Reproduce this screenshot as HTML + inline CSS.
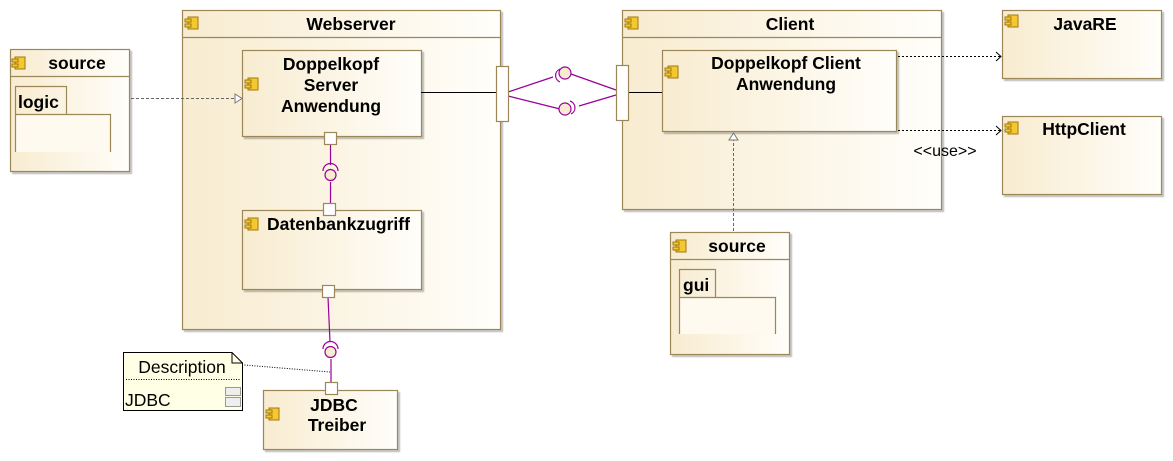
<!DOCTYPE html>
<html><head><meta charset="utf-8"><style>
html,body{margin:0;padding:0;background:#fff;}
svg{display:block;font-family:"Liberation Sans",Arial,sans-serif;}
.b{font-weight:bold;font-size:17.5px;fill:#000;}
</style></head><body>
<svg width="1173" height="461" viewBox="0 0 1173 461" xmlns="http://www.w3.org/2000/svg">
<defs>
<linearGradient id="g" x1="0" x2="1" y1="0" y2="0"><stop offset="0" stop-color="#f8ecd0"/><stop offset="1" stop-color="#fffefa"/></linearGradient>
<filter id="sh" x="-5%" y="-5%" width="110%" height="110%"><feDropShadow dx="2" dy="2" stdDeviation="0.6" flood-color="#000" flood-opacity="0.25"/></filter>
<g id="ic"><rect x="3" y="0" width="10" height="12" fill="#f5c830" stroke="#a07810"/><rect x="0" y="2" width="6" height="3" fill="#f5c830" stroke="#a07810"/><rect x="0" y="7" width="6" height="3" fill="#f5c830" stroke="#a07810"/></g>
</defs>
<g stroke="#9c8758" stroke-width="1.2" fill="url(#g)" filter="url(#sh)">
<rect x="10.5" y="49.5" width="119" height="122"/>
<rect x="182.5" y="10.5" width="318" height="319"/>
<rect x="622.5" y="10.5" width="319" height="199"/>
<rect x="1002.5" y="10.5" width="159" height="68"/>
<rect x="1002.5" y="116.5" width="159" height="78"/>
<rect x="670.5" y="232.5" width="119" height="122"/>
<rect x="263.5" y="390.5" width="134" height="59"/>
</g>
<g stroke="#9c8758" stroke-width="1.2" fill="url(#g)" filter="url(#sh)">
<rect x="242.5" y="50.5" width="179" height="86"/>
<rect x="242.5" y="210.5" width="179" height="79"/>
<rect x="662.5" y="50.5" width="234" height="81"/>
</g>
<g stroke="#9c8758" stroke-width="1.2" fill="none">
<line x1="10" y1="76.5" x2="129" y2="76.5"/>
<line x1="182" y1="37.5" x2="500" y2="37.5"/>
<line x1="622" y1="37.5" x2="941" y2="37.5"/>
<line x1="670" y1="259.5" x2="789" y2="259.5"/>
<path d="M15.5 114 V86.5 H66.5 V114"/><path d="M15.5 152 V114.5 H110.5 V152" fill="#fffaf0"/>
<path d="M679.5 297 V269.5 H715.5 V297"/><path d="M679.5 334 V297.5 H775.5 V334" fill="#fffaf0"/>
</g>
<use href="#ic" x="12" y="57"/><use href="#ic" x="185" y="17"/><use href="#ic" x="245" y="78"/><use href="#ic" x="245" y="218"/>
<use href="#ic" x="625" y="17"/><use href="#ic" x="665" y="66"/><use href="#ic" x="1005" y="15"/><use href="#ic" x="1005" y="122"/>
<use href="#ic" x="673" y="240"/><use href="#ic" x="266" y="408"/>
<text class="b" x="77" y="69" text-anchor="middle">source</text>
<text class="b" x="18" y="108">logic</text>
<text class="b" x="351" y="30" text-anchor="middle">Webserver</text>
<text class="b" x="331" y="70" text-anchor="middle">Doppelkopf</text>
<text class="b" x="331" y="91" text-anchor="middle">Server</text>
<text class="b" x="331" y="112" text-anchor="middle">Anwendung</text>
<text class="b" x="267" y="230">Datenbankzugriff</text>
<text class="b" x="334" y="411" text-anchor="middle">JDBC</text>
<text class="b" x="337" y="431" text-anchor="middle">Treiber</text>
<text class="b" x="790" y="30" text-anchor="middle">Client</text>
<text class="b" x="786" y="69" text-anchor="middle">Doppelkopf Client</text>
<text class="b" x="786" y="90" text-anchor="middle">Anwendung</text>
<text class="b" x="1085" y="30" text-anchor="middle">JavaRE</text>
<text class="b" x="1084" y="135" text-anchor="middle">HttpClient</text>
<text class="b" x="737" y="252" text-anchor="middle">source</text>
<text class="b" x="683" y="291">gui</text>
<text x="945" y="156" font-size="16" text-anchor="middle">&lt;&lt;use&gt;&gt;</text>
<line x1="421" y1="92.5" x2="496" y2="92.5" stroke="#000"/>
<line x1="628" y1="92.5" x2="662" y2="92.5" stroke="#000"/>
<g stroke="#990099" stroke-width="1.2" fill="none">
<line x1="330.5" y1="144" x2="330.5" y2="165"/><line x1="330.5" y1="182" x2="330.5" y2="204"/>
<path d="M323 171 A7 7 0 0 1 338 171"/><circle cx="330.5" cy="175" r="5.5" fill="#f8ecd0"/>
<line x1="328" y1="297" x2="330" y2="342"/><line x1="331" y1="359" x2="331" y2="383"/>
<path d="M323 349 A7 7 0 0 1 338 349"/><circle cx="330.5" cy="352" r="5.5" fill="#f8ecd0"/>
<line x1="508" y1="92" x2="553" y2="77"/><line x1="508" y1="96" x2="560" y2="109"/>
<line x1="571" y1="74" x2="616" y2="90"/><line x1="579" y1="106" x2="616" y2="95"/>
<path d="M560 69 A7 7 0 0 0 560 82"/><circle cx="565" cy="73" r="6" fill="#f8ecd0"/>
<path d="M570 101 A7 7 0 0 1 571 114"/><circle cx="565" cy="109" r="6" fill="#f8ecd0"/>
</g>
<g stroke="#9c8758" stroke-width="1.2" fill="#fff">
<rect x="496.5" y="66.5" width="12" height="55"/>
<rect x="616.5" y="65.5" width="12" height="55"/>
<rect x="324.5" y="132.5" width="12" height="12"/>
<rect x="323.5" y="203.5" width="12" height="12"/>
<rect x="322.5" y="285.5" width="12" height="12"/>
<rect x="325.5" y="382.5" width="12" height="12"/>
</g>
<g stroke="#666" fill="none" stroke-dasharray="3,2">
<line x1="131" y1="98.5" x2="235" y2="98.5"/>
<line x1="733.5" y1="231" x2="733.5" y2="140"/>
</g>
<path d="M235 94 L242 98.5 L235 103 Z" fill="#fff" stroke="#777"/>
<path d="M729 140 L733.5 133 L738 140 Z" fill="#fff" stroke="#777"/>
<g stroke="#000" fill="none" stroke-dasharray="2,2">
<line x1="898" y1="56.5" x2="1000" y2="56.5"/>
<line x1="898" y1="130.5" x2="1000" y2="130.5"/>
<line x1="232" y1="364" x2="330" y2="372" stroke-dasharray="1,1.5"/>
</g>
<path d="M996 52 L1001 56.5 L996 61 M996 126 L1001 130.5 L996 135" stroke="#000" fill="none"/>
<path d="M123.5 352.5 H232 L242.5 363 V410.5 H123.5 Z" fill="#ffffe6" stroke="#000"/>
<path d="M232 352.5 V363 H242.5" fill="none" stroke="#000"/>
<line x1="126" y1="379.5" x2="240" y2="379.5" stroke="#000" stroke-dasharray="1,1.5"/>
<text x="182" y="373" font-size="17.5" text-anchor="middle">Description</text>
<text x="125" y="406" font-size="17.5">JDBC</text>
<rect x="225.5" y="387.5" width="15" height="8" fill="#eee" stroke="#999"/>
<rect x="225.5" y="397.5" width="15" height="9" fill="#eee" stroke="#999"/>
</svg>
</body></html>
